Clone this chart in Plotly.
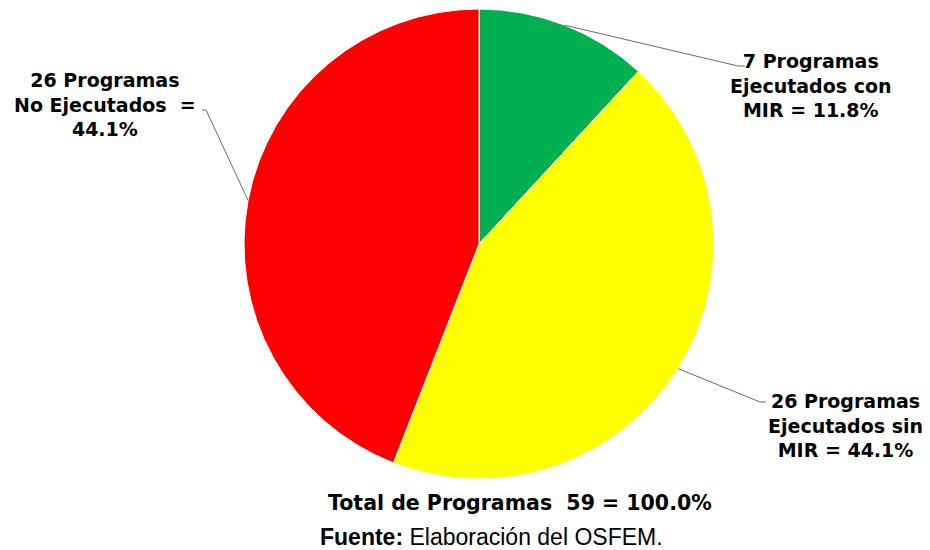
import math
import plotly.graph_objects as go

# ---- data ----
categorias = ["Ejecutados con MIR", "Ejecutados sin MIR", "No Ejecutados"]
programas = [7, 26, 26]
porcentajes = [11.8, 44.1, 44.1]   # as printed in the reference
total_pct = 100.0
colores = ["#00B050", "#FFFF00", "#FF0000"]
fuente = "Elaboración del OSFEM."

total = sum(programas)

W, H = 930, 550
OFF = 8  # page body margin in the browser; positions below are page pixels
cx, cy, r = 479, 244, 235  # pie placement (page pixels)


def px2paper(x, y):
    return (x - OFF) / W, 1 - (y - OFF) / H


x0, y0 = px2paper(cx - r, cy + r)
x1, y1 = px2paper(cx + r, cy - r)

fig = go.Figure(
    go.Pie(
        labels=categorias,
        values=programas,
        sort=False,
        direction="clockwise",
        rotation=0,
        marker=dict(colors=colores, line=dict(color="white", width=1)),
        textinfo="none",
        hoverinfo="label+value+percent",
        domain=dict(x=[x0, x1], y=[y0, y1]),
        showlegend=False,
    )
)

label_font = dict(family="DejaVu Sans", size=19, color="black", weight="bold")

textos = [
    f"{programas[0]} Programas<br>Ejecutados con<br>MIR = {porcentajes[0]:.1f}%",
    f"{programas[1]} Programas<br>Ejecutados sin<br>MIR = {porcentajes[1]:.1f}%",
    f"{programas[2]} Programas<br>No Ejecutados\u00a0 =<br>{porcentajes[2]:.1f}%",
]
# label centre (px) and leader elbow / end (px)
label_pos = [(811, 85), (845, 425), (105, 104)]
elbows = [((738, 66), (745, 66)), ((760, 402), (766, 402)), ((206, 110), (202, 110))]

shapes = []
annotations = []
cum = 0.0
for i, v in enumerate(programas):
    mid = (cum + v / 2) / total * 2 * math.pi
    cum += v
    ex = cx + r * math.sin(mid)
    ey = cy - r * math.cos(mid)
    (bx, by), (tx, ty) = elbows[i]
    path_pts = [px2paper(ex, ey), px2paper(bx, by), px2paper(tx, ty)]
    path = "M " + " L ".join(f"{p[0]:.5f},{p[1]:.5f}" for p in path_pts)
    shapes.append(dict(type="path", xref="paper", yref="paper", path=path,
                       line=dict(color="#6b6b6b", width=1)))
    lx, ly = px2paper(*label_pos[i])
    annotations.append(dict(x=lx, y=ly, xref="paper", yref="paper", text=textos[i],
                            showarrow=False, xanchor="center", yanchor="middle",
                            align="center", font=label_font))

tx, ty = px2paper(520, 503)
annotations.append(dict(x=tx, y=ty, xref="paper", yref="paper",
                        text=f"Total de Programas\u00a0 {total} = {total_pct:.1f}%",
                        showarrow=False, xanchor="center", yanchor="middle",
                        font=dict(family="DejaVu Sans", size=20.5, color="black", weight="bold")))
fx, fy = px2paper(492, 537)
annotations.append(dict(x=fx, y=fy, xref="paper", yref="paper",
                        text=f"<b>Fuente:</b> {fuente}",
                        showarrow=False, xanchor="center", yanchor="middle",
                        font=dict(family="Liberation Sans, Arial", size=23, color="black")))

fig.update_layout(
    width=W, height=H,
    margin=dict(l=0, r=0, t=0, b=0),
    paper_bgcolor="white", plot_bgcolor="white",
    shapes=shapes, annotations=annotations,
)

fig.write_html("out.html")
